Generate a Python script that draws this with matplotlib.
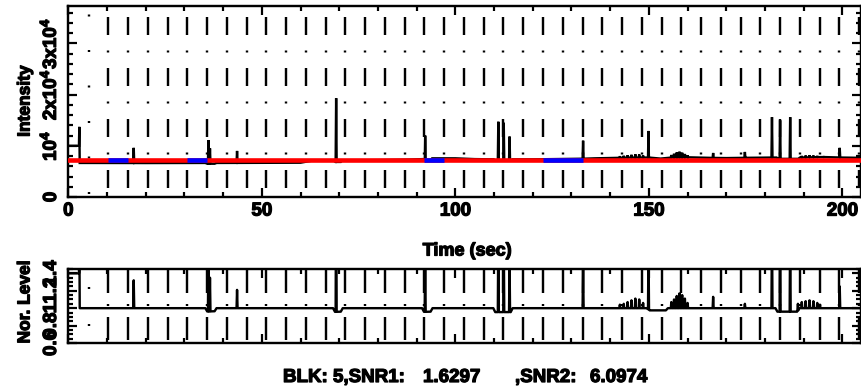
import numpy as np
import matplotlib
matplotlib.use('Agg')
import matplotlib.pyplot as plt
import matplotlib.patheffects as pe
from matplotlib.ticker import MultipleLocator, FixedLocator, FixedFormatter

plt.rcParams['font.family'] = ['Liberation Sans', 'DejaVu Sans']
plt.rcParams['font.weight'] = 'bold'
plt.rcParams['mathtext.fontset'] = 'custom'
plt.rcParams['mathtext.rm'] = 'Liberation Sans:bold'
plt.rcParams['mathtext.it'] = 'Liberation Sans:bold'
plt.rcParams['mathtext.bf'] = 'Liberation Sans:bold'
plt.rcParams['lines.scale_dashes'] = False

# ---------------- data ----------------
# intensity light curve: slowly varying level (knots)
int_knot_t = [0, 2.75, 2.85, 2.95, 10, 20, 30, 35.4, 35.9, 37.8, 38.3, 50, 60, 63, 68.6, 69.0,
              70.4, 70.8, 80, 88, 91.6, 92.1, 93.6, 94.0, 100, 105, 109.9, 110.3, 114.4, 114.8,
              120, 126, 132, 136, 140, 145, 150, 153, 156, 160, 165, 170, 175, 180, 183, 183.4,
              188.6, 189, 195, 200, 204.8]
int_knot_v = [10000, 10000, 13700, 6650, 6650, 6630, 6650, 6650, 6500, 6500, 6650, 6670, 6700, 7100,
              7100, 6850, 6850, 7150, 7200, 7300, 7400, 7150, 7150, 7550, 7550, 7400, 7350, 7100,
              7100, 7350, 7350, 7400, 7450, 7550, 7600, 7700, 7700, 7500, 7700, 7750, 7650, 7600,
              7650, 7700, 7700, 7450, 7450, 7700, 7800, 7700, 7650]
# intensity spikes
int_spike_t = [16.9, 36.2, 36.6, 43.6, 69.2, 92.2, 111.1, 112.5, 114.0, 133.0, 149.9, 181.8, 183.9,
               186.5, 199.3,
               142.5, 143.5, 144.5, 145.5, 146.5, 147.5, 148.5, 155.8, 156.5, 157.2, 157.9, 158.6,
               159.3, 160.0, 166.6, 174.8, 189.5, 190.5, 191.5, 192.5, 193.5, 195.0]
int_spike_v = [9600, 11100, 9500, 9000, 19300, 12000, 14700, 14500, 11800, 11000, 12900, 15600, 15000,
               15600, 9600,
               7950, 8050, 8150, 8250, 8350, 8300, 8100, 8200, 8450, 8700, 8850, 8650,
               8400, 8150, 8600, 8800, 8000, 8100, 8150, 8100, 8000, 7950]

# normalised level
nor_knot_t = [0, 2.75, 2.85, 2.95, 20, 35.4, 35.9, 37.8, 38.3, 68.4, 68.9, 70.4, 70.9, 91.4, 91.9,
              93.6, 94.1, 109.8, 110.3, 114.3, 114.8, 149.6, 150.2, 154.4, 154.9, 182.7, 183.2,
              188.3, 188.8, 204.8]
nor_knot_v = [1.4, 1.4, 1.9, 1.0, 1.0, 1.0, 0.962, 0.965, 1.0, 1.0, 0.958, 0.96, 1.0, 1.0, 0.958,
              0.96, 1.0, 1.0, 0.955, 0.955, 1.0, 1.0, 0.975, 0.975, 1.0, 1.0, 0.96,
              0.96, 1.0, 1.0]
nor_spike_t = [16.9, 36.2, 36.6, 43.6, 69.2, 92.2, 111.1, 112.5, 114.0, 133.0, 149.9, 181.8, 183.9,
               186.5, 199.3,
               142.5, 143.5, 144.5, 145.5, 146.5, 147.5, 148.5, 155.8, 156.5, 157.2, 157.9, 158.6,
               159.3, 160.0, 166.6, 174.8, 188.5, 189.5, 190.5, 191.5, 192.5, 193.5, 194.2]
nor_spike_v = [1.32, 1.6, 1.35, 1.21, 2.6, 1.6, 1.95, 1.9, 1.55, 1.5, 1.7, 2.0, 1.95,
               2.0, 1.25,
               1.04, 1.05, 1.07, 1.09, 1.11, 1.10, 1.06, 1.07, 1.10, 1.14, 1.17, 1.15,
               1.11, 1.06, 1.13, 1.05, 1.05, 1.07, 1.08, 1.09, 1.08, 1.06, 1.04]

# block boundaries (sec)
block_edges = [5.23, 10.33, 15.44, 20.54, 25.65, 30.75, 35.86, 40.96, 46.07, 51.17, 56.28, 61.38,
               66.49, 71.59, 76.70, 81.80, 86.91, 92.01, 97.12, 102.22, 107.33, 112.43, 117.54,
               122.64, 127.75, 132.85, 137.96, 143.06, 148.17, 153.27, 158.38, 163.48, 168.59,
               173.69, 178.80, 183.90, 189.01, 194.11, 199.22, 204.32]
ref_level = 7150
blue_start = [10.33, 30.75, 92.01, 122.64]
blue_end = [15.44, 35.86, 97.12, 132.85]

x_max = 204.8
blk_text = ['BLK: 5,SNR1:', '1.6297', ',SNR2:', '6.0974']


def build(kt, kv, st, sv, half=0.13):
    t = list(kt)
    v = list(kv)
    for ts, vs in zip(st, sv):
        b = float(np.interp(ts, kt, kv))
        t += [ts - half, ts, ts + half]
        v += [b, vs, b]
    order = np.argsort(t, kind='stable')
    return np.array(t)[order], np.array(v)[order]


int_t, int_v = build(int_knot_t, int_knot_v, int_spike_t, int_spike_v)
nor_t, nor_v = build(nor_knot_t, nor_knot_v, nor_spike_t, nor_spike_v)

# ---------------- figure ----------------
W, H = 862, 392
P = 0.72  # px -> pt at dpi 100
fig = plt.figure(figsize=(W / 100, H / 100), dpi=100)
ax1 = fig.add_axes([68.3 / W, 1 - 197 / H, (861 - 68.3) / W, 191 / H])
ax2 = fig.add_axes([68.3 / W, 1 - 343 / H, (861 - 68.3) / W, 74 / H])

LW = 2.4 * P
FS = 13.5
STROKE = [pe.withStroke(linewidth=0.9, foreground='black')]

for ax in (ax1, ax2):
    ax.set_xlim(0, x_max)
    for s in ax.spines.values():
        s.set_linewidth(2.4 * P)
    ax.xaxis.set_major_locator(MultipleLocator(50))
    ax.xaxis.set_minor_locator(MultipleLocator(10))
    ax.tick_params(which='both', direction='in', top=True, right=True, width=2.2 * P,
                   labelsize=FS)
    ax.tick_params(which='major', length=9 * P)
    ax.tick_params(which='minor', length=5 * P)

# top panel
ax1.set_ylim(0, 37300)
ax1.yaxis.set_major_locator(FixedLocator([0, 1e4, 2e4, 3e4]))
ax1.yaxis.set_major_formatter(FixedFormatter(['0', '10$^{4}$', '2x10$^{4}$', '3x10$^{4}$']))
ax1.yaxis.set_minor_locator(MultipleLocator(2000))
ax1.tick_params(axis='x', pad=4)
ax1.tick_params(axis='y', pad=6)

# block lines, top panel
dashdot_top = (42 * P, (18 * P, 15.5 * P, 2 * P, 15.5 * P))
dot_top = (32.5 * P, (2 * P, 33.5 * P))
for i, e in enumerate(block_edges):
    ls = dot_top if i == 0 else dashdot_top
    ax1.axvline(e, color='black', lw=LW, linestyle=ls, zorder=1)

ax1.plot(int_t, int_v, color='black', lw=LW, zorder=2, solid_joinstyle='miter')
ax1.axhline(ref_level, color='red', lw=4.6 * P, zorder=3)
for s, e in zip(blue_start, blue_end):
    ax1.plot([s, e], [ref_level, ref_level], color='blue', lw=4.6 * P, zorder=4,
             solid_capstyle='butt')

# bottom panel
ax2.set_ylim(0.6, 1.45)
ax2.yaxis.set_major_locator(FixedLocator([0.6, 0.8, 1.0, 1.2, 1.4]))
ax2.yaxis.set_major_formatter(FixedFormatter(['0.6', '0.8', '1', '1.2', '1.4']))
ax2.yaxis.set_minor_locator(MultipleLocator(0.05))
ax2.tick_params(axis='x', labelbottom=False)
ax2.tick_params(axis='y', pad=6)

dashdot_bot = (44 * P, (23 * P, 11 * P, 2 * P, 11 * P))
dot_bot = (20 * P, (2 * P, 35 * P))
for i, e in enumerate(block_edges):
    ls = dot_bot if i == 0 else dashdot_bot
    ax2.axvline(e, color='black', lw=LW, linestyle=ls, zorder=1)
ax2.plot(nor_t, nor_v, color='black', lw=LW, zorder=2)

for ax in (ax1, ax2):
    plt.setp(ax.get_yticklabels(), rotation=90, va='center', fontweight='bold',
             path_effects=STROKE)
    plt.setp(ax.get_xticklabels(), fontweight='bold', path_effects=STROKE)


def ftext(x, y, s, size=FS, **kw):
    fig.text(x / W, 1 - y / H, s, fontsize=size, fontweight='bold',
             path_effects=STROKE, **kw)


ftext(25, 101, 'Intensity', size=12.5, rotation=90, ha='center', va='center')
ftext(25, 302, 'Nor. Level', size=12.5, rotation=90, ha='center', va='center')
ftext(467, 251, 'Time (sec)', size=13, ha='center', va='center')
for xp, s in zip([283, 423, 515, 590], blk_text):
    ftext(xp, 382, s, ha='left', va='baseline')

fig.savefig('out.png', dpi=100)
